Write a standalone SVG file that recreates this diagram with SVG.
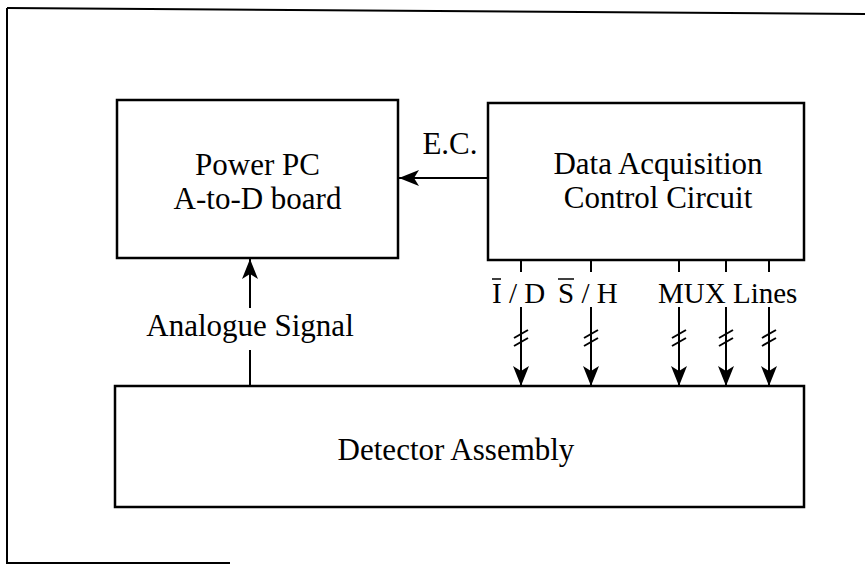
<svg xmlns="http://www.w3.org/2000/svg" width="865" height="564" viewBox="0 0 865 564">
<style>
.box{fill:#fff;stroke:#000;stroke-width:2.5}
.ln{stroke:#000;stroke-width:2;fill:none}
.t{font-family:"Liberation Serif","Times New Roman",serif;font-size:31px;fill:#000}
.s{font-family:"Liberation Serif","Times New Roman",serif;font-size:29px;fill:#000}
</style>
<defs>
<marker id="ah" viewBox="0 0 20 16" refX="20" refY="8" markerWidth="20" markerHeight="16" markerUnits="userSpaceOnUse" orient="auto">
<path d="M0,0 L20,8 L0,16 L5,8 Z" fill="#000"/>
</marker>
</defs>
<rect width="865" height="564" fill="#fff"/>
<g id="frame">
<path class="ln" d="M7,8 L865,14"/>
<path class="ln" d="M7,8 L7,563 L230,563"/>
</g>
<g id="power-pc">
<rect class="box" x="117" y="100" width="281" height="158"/>
<text class="t" x="257.5" y="175" text-anchor="middle">Power PC</text>
<text class="t" x="257.5" y="209" text-anchor="middle">A-to-D board</text>
</g>
<g id="daq">
<rect class="box" x="488" y="103" width="316" height="157"/>
<text class="t" x="658" y="174" text-anchor="middle">Data Acquisition</text>
<text class="t" x="658" y="208" text-anchor="middle">Control Circuit</text>
</g>
<g id="detector">
<rect class="box" x="115" y="386" width="689" height="121"/>
<text class="t" x="456" y="460" text-anchor="middle">Detector Assembly</text>
</g>
<g id="connectors">
<line class="ln" x1="488" y1="178" x2="399" y2="178" marker-end="url(#ah)"/>
<text class="t" x="450" y="154" text-anchor="middle">E.C.</text>
<line class="ln" x1="250" y1="386" x2="250" y2="350"/>
<line class="ln" x1="250" y1="308" x2="250" y2="259" marker-end="url(#ah)"/>
<text class="t" x="250" y="336" text-anchor="middle">Analogue Signal</text>
<g id="lines">
<line class="ln" x1="521" y1="260" x2="521" y2="272"/>
<line class="ln" x1="591" y1="260" x2="591" y2="272"/>
<line class="ln" x1="679" y1="260" x2="679" y2="272"/>
<line class="ln" x1="726" y1="260" x2="726" y2="272"/>
<line class="ln" x1="769" y1="260" x2="769" y2="272"/>
<line class="ln" x1="521" y1="307" x2="521" y2="386" marker-end="url(#ah)"/>
<line class="ln" x1="591" y1="307" x2="591" y2="386" marker-end="url(#ah)"/>
<line class="ln" x1="679" y1="307" x2="679" y2="386" marker-end="url(#ah)"/>
<line class="ln" x1="726" y1="307" x2="726" y2="386" marker-end="url(#ah)"/>
<line class="ln" x1="769" y1="307" x2="769" y2="386" marker-end="url(#ah)"/>
<path class="ln" d="M514,338 L528,330 M514,346 L528,338"/>
<path class="ln" d="M584,338 L598,330 M584,346 L598,338"/>
<path class="ln" d="M672,338 L686,330 M672,346 L686,338"/>
<path class="ln" d="M719,338 L733,330 M719,346 L733,338"/>
<path class="ln" d="M762,338 L776,330 M762,346 L776,338"/>
</g>
<text class="s" x="492" y="303">I / D</text>
<line stroke="#000" stroke-width="1.5" x1="492" y1="279" x2="501" y2="279"/>
<text class="s" x="558" y="303">S / H</text>
<line stroke="#000" stroke-width="1.5" x1="558" y1="279" x2="574" y2="279"/>
<text class="s" x="658" y="303">MUX Lines</text>
</g>
</svg>
